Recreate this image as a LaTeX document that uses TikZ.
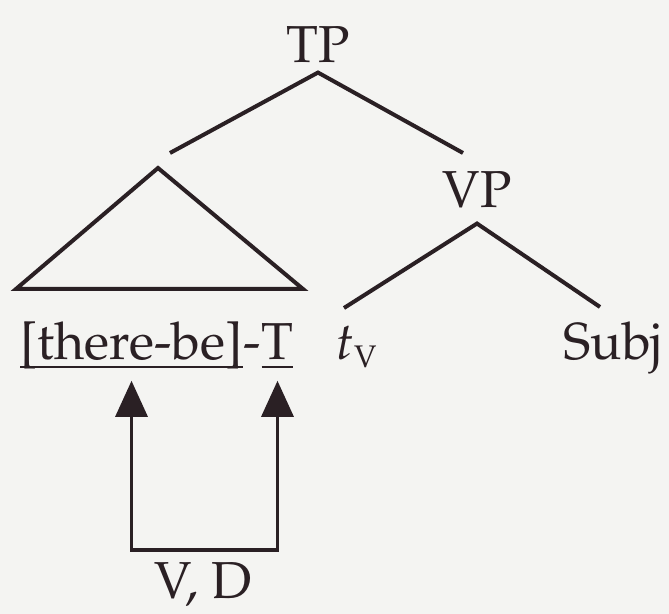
\documentclass[tikz,border=0pt]{standalone}
\usepackage[T1]{fontenc}
\usepackage{mathpazo}
\usepackage{xcolor}
\usepackage{tikz}
\usetikzlibrary{arrows.meta,calc,positioning}

\definecolor{ink}{RGB}{42,32,36}
\definecolor{paper}{RGB}{244,244,242}
\newcommand{\uline}[1]{\underline{\smash{#1}}}

\begin{document}
\begin{tikzpicture}[x=0.5pt,y=-0.5pt,
  every node/.style={font=\fontsize{26}{31}\selectfont, inner sep=0pt, text=ink},
  branch/.style={draw=ink, line width=2pt},
  feat/.style={draw=ink, line width=1.6pt,
    {Triangle[length=18pt,width=16pt]}-{Triangle[length=18pt,width=16pt]},
    shorten <=5pt, shorten >=5pt}]
% Background and size
\fill[paper] (0,0) rectangle (669,614);
\useasboundingbox (0,0) rectangle (669,614);

% Draw labels
\node[anchor=base] (TP) at (318,63) {TP};
\node[anchor=base] (VP) at (477,208) {VP};
\node[anchor=base west] (thb) at (20,360) {\uline{[there-be]}};
\node[anchor=base west] (dsh) at (thb.base east) {-};
\node[anchor=base west] (tee) at (dsh.base east) {\uline{T}};
\node[anchor=base west] (tv) at (335,360) {$t_{\scriptscriptstyle\mathrm{V}}$};
\node[anchor=base west] (subj) at (563,360) {Subj};
\node[anchor=base] (vd) at (203,598) {V, D};

% Draw tree branches
\path (TP.south) ++(0,9) coordinate (tpA);
\coordinate (tpL) at (170,153);
\coordinate (tpR) at (463,153);
\draw[branch] (tpL) -- (tpA) -- (tpR);

\coordinate (triA) at (158,168);
\coordinate (triL) at (16,289);
\coordinate (triR) at (303,289);
\draw[branch] (triL) -- (triA) -- (triR) -- cycle;

\path (VP.south) ++(0,15) coordinate (vpA);
\coordinate (vpL) at (344,308);
\coordinate (vpR) at (600,307);
\draw[branch] (vpL) -- (vpA) -- (vpR);

% Draw feature arrows
\coordinate (bar) at (203,550);
\draw[feat] (thb.south) -- (thb.south |- bar) -- (tee.south |- bar) -- (tee.south);
\end{tikzpicture}
\end{document}
